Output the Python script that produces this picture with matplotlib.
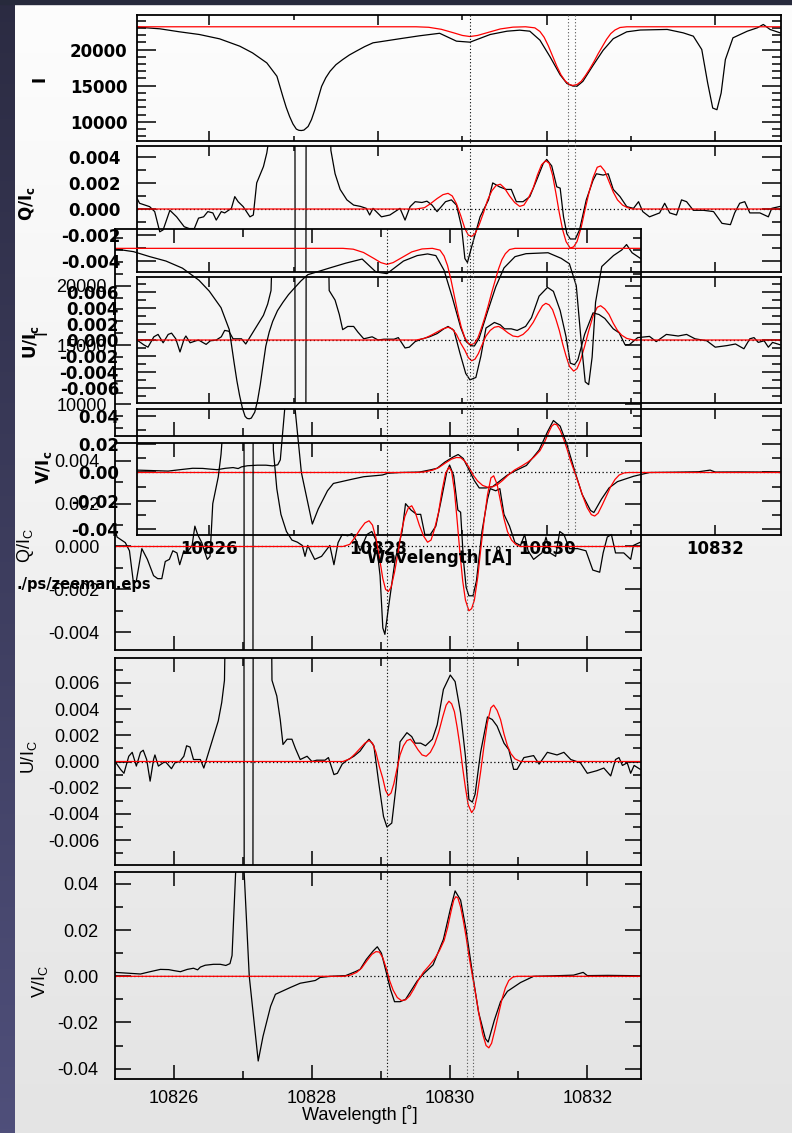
import numpy as np
import matplotlib
matplotlib.use("Agg")
import matplotlib.pyplot as plt
import matplotlib.transforms as mtransforms
from matplotlib.lines import Line2D
from matplotlib.ticker import FixedLocator, MultipleLocator, NullFormatter

plt.rcParams['mathtext.fontset'] = 'custom'
plt.rcParams['mathtext.bf'] = 'DejaVu Sans:bold'
plt.rcParams['mathtext.rm'] = 'Liberation Sans'
plt.rcParams['axes.unicode_minus'] = False

###############
# Data series #
###############
# Stokes I (observed / fit)
i_obs_wl = [10825.14, 10825.41, 10825.64, 10825.88, 10826.12, 10826.36, 10826.51, 10826.68, 10826.80,
            10826.87, 10826.91, 10826.95, 10826.99, 10827.03, 10827.06, 10827.09, 10827.12, 10827.17,
            10827.21, 10827.25, 10827.29, 10827.33, 10827.38, 10827.43, 10827.50, 10827.58, 10827.66,
            10827.74, 10827.84, 10827.94, 10828.02, 10828.26, 10828.49, 10828.73, 10828.93, 10829.09,
            10829.33, 10829.53, 10829.68, 10829.80, 10829.92, 10830.04, 10830.16, 10830.24, 10830.31,
            10830.36, 10830.43, 10830.55, 10830.67, 10830.79, 10830.95, 10831.11, 10831.43, 10831.62,
            10831.74, 10831.84, 10831.91, 10831.97, 10832.02, 10832.07, 10832.12, 10832.21, 10832.38,
            10832.50, 10832.57, 10832.65, 10832.77]
i_obs = [23100, 22870, 22460, 22080, 21480, 20460, 19540, 18150, 16300,
         13510, 12000, 10740, 9700, 8990, 8820, 8790, 8850, 9350,
         10300, 11670, 13300, 14900, 16100, 16990, 17900, 18610, 19250,
         19770, 20400, 20930, 21070, 21500, 21900, 22250, 21160, 21020,
         22080, 22540, 22680, 22540, 21300, 19000, 16500, 15300, 14950,
         14920, 15600, 17800, 19900, 21500, 22450, 22700, 22780, 22310,
         21850, 20000, 15370, 11900, 11670, 13980, 18610, 21620, 22540,
         23010, 23470, 22780, 22310]
i_fit_wl = [10825.14, 10828.45, 10828.60, 10828.75, 10828.90, 10829.00, 10829.09, 10829.18, 10829.30,
            10829.45, 10829.60, 10829.75, 10829.86, 10829.92, 10829.97, 10830.02, 10830.07, 10830.12,
            10830.17, 10830.22, 10830.27, 10830.31, 10830.36, 10830.41, 10830.46, 10830.51, 10830.56,
            10830.61, 10830.66, 10830.71, 10830.76, 10830.81, 10830.87, 10830.95, 10832.78]
i_fit = [23150, 23150, 23080, 22800, 22300, 21950, 21800, 21950, 22350,
         22850, 23100, 23150, 23000, 22500, 21700, 20500, 19100, 17700,
         16500, 15650, 15150, 15030, 15150, 15600, 16400, 17300, 18300,
         19400, 20400, 21400, 22200, 22700, 23050, 23150, 23150]

# Stokes Q / Ic
q_obs_wl = [10825.13, 10825.17, 10825.29, 10825.35, 10825.41, 10825.45, 10825.53, 10825.61, 10825.70,
            10825.76, 10825.82, 10825.87, 10825.93, 10825.98, 10826.04, 10826.08, 10826.14, 10826.18,
            10826.26, 10826.30, 10826.34, 10826.40, 10826.48, 10826.52, 10826.56, 10826.64, 10826.68,
            10826.72, 10826.80, 10827.01, 10827.02, 10827.14, 10827.15, 10827.38, 10827.44, 10827.49,
            10827.55, 10827.63, 10827.71, 10827.79, 10827.86, 10827.90, 10827.94, 10828.04, 10828.14,
            10828.26, 10828.32, 10828.38, 10828.44, 10828.52, 10828.58, 10828.64, 10828.70, 10828.80,
            10828.87, 10828.93, 10828.99, 10829.03, 10829.06, 10829.11, 10829.21, 10829.31, 10829.36,
            10829.44, 10829.52, 10829.58, 10829.64, 10829.72, 10829.80, 10829.88, 10829.96, 10830.00,
            10830.06, 10830.12, 10830.16, 10830.20, 10830.24, 10830.28, 10830.34, 10830.39, 10830.47,
            10830.55, 10830.59, 10830.67, 10830.73, 10830.79, 10830.87, 10830.95, 10831.03, 10831.09,
            10831.14, 10831.22, 10831.34, 10831.40, 10831.46, 10831.54, 10831.60, 10831.66, 10831.74,
            10831.86, 10831.98, 10832.08, 10832.18, 10832.23, 10832.29, 10832.35, 10832.41, 10832.53,
            10832.63, 10832.67, 10832.77]
q_obs = [0.00095, 0.00044, 0.00018, -0.0002, -0.00175, -0.0016, -0.0001, -0.0006, -0.00136,
         -0.0015, -0.0015, -0.0007, -0.0006, -0.0002, -0.0003, -0.00085, -0.0002, -0.0003,
         0.00005, 0.00095, 0.00056, 0.00018, -0.0006, -0.00046, 0.002, 0.00325, 0.0043,
         0.006, 0.03, 0.03, -0.03, -0.03, 0.03, 0.03, 0.0045, 0.0027,
         0.0015, 0.0007, 0.0003, 0.0002, 0.00005, -0.00046, 0.00005, -0.0006, -0.00046,
         0.00005, -0.00085, 0.00018, 0.00056, 0.0005, 0.0006, 0.0003, -0.0002, 0.00056,
         0.0007, 0.0003, -0.00136, -0.0038, -0.0041, -0.0029, -0.0006, 0.0007, 0.002,
         0.0017, 0.0015, 0.0015, 0.00056, 0.00056, 0.00095, 0.0022, 0.0035, 0.0038,
         0.0033, 0.0017, 0.0016, -0.0006, -0.0019, -0.0023, -0.0023, -0.0016, 0.0007,
         0.0022, 0.0027, 0.0026, 0.0027, 0.0015, 0.00095, 0.00018, 0.00005, 0.00056,
         -0.0002, -0.0006, -0.0003, 0.00044, -0.0003, -0.00046, 0.0007, 0.00056, -0.0001,
         -0.0001, -0.0002, -0.0011, -0.0012, -0.0003, 0.00044, 0.00056, -0.0003, -0.0003,
         -0.0006, 0.00005, 0.0002]
q_fit_wl = [10825.14, 10828.45, 10828.55, 10828.62, 10828.70, 10828.77, 10828.83, 10828.88, 10828.93,
            10828.98, 10829.03, 10829.07, 10829.11, 10829.15, 10829.20, 10829.25, 10829.30, 10829.35,
            10829.40, 10829.45, 10829.50, 10829.56, 10829.62, 10829.68, 10829.73, 10829.78, 10829.84,
            10829.89, 10829.94, 10829.99, 10830.03, 10830.07, 10830.11, 10830.15, 10830.19, 10830.23,
            10830.28, 10830.32, 10830.36, 10830.41, 10830.45, 10830.50, 10830.55, 10830.60, 10830.64,
            10830.69, 10830.74, 10830.79, 10830.84, 10830.90, 10830.96, 10831.02, 10832.78]
q_fit = [0.0, 0.0, 0.0001, 0.0004, 0.0008, 0.0011, 0.0012, 0.0010, 0.0004,
         -0.0005, -0.0015, -0.0020, -0.0021, -0.0019, -0.0012, -0.0003, 0.0007, 0.0014,
         0.0018, 0.0019, 0.0016, 0.0010, 0.0005, 0.0002, 0.0003, 0.0008, 0.0016,
         0.0026, 0.0034, 0.0037, 0.0035, 0.0026, 0.0012, -0.0003, -0.0016, -0.0025,
         -0.0030, -0.0029, -0.0025, -0.0014, -0.0002, 0.0012, 0.0024, 0.0032, 0.0033,
         0.0029, 0.0021, 0.0013, 0.0007, 0.0003, 0.0001, 0.0, 0.0]

# Stokes U / Ic
u_obs_wl = [10825.14, 10825.22, 10825.27, 10825.34, 10825.39, 10825.45, 10825.51, 10825.55, 10825.60,
            10825.65, 10825.70, 10825.72, 10825.77, 10825.84, 10825.87, 10825.96, 10826.01, 10826.08,
            10826.14, 10826.18, 10826.23, 10826.28, 10826.38, 10826.43, 10826.50, 10826.57, 10826.64,
            10826.69, 10826.73, 10826.80, 10827.01, 10827.02, 10827.14, 10827.15, 10827.38, 10827.42,
            10827.49, 10827.54, 10827.58, 10827.64, 10827.71, 10827.76, 10827.83, 10827.93, 10828.00,
            10828.07, 10828.19, 10828.24, 10828.32, 10828.37, 10828.44, 10828.51, 10828.61, 10828.70,
            10828.78, 10828.83, 10828.90, 10828.97, 10829.04, 10829.09, 10829.16, 10829.22, 10829.28,
            10829.38, 10829.45, 10829.50, 10829.58, 10829.65, 10829.75, 10829.82, 10829.91, 10830.01,
            10830.08, 10830.16, 10830.23, 10830.28, 10830.33, 10830.37, 10830.45, 10830.55, 10830.62,
            10830.69, 10830.79, 10830.86, 10830.93, 10830.98, 10831.08, 10831.22, 10831.30, 10831.42,
            10831.56, 10831.66, 10831.76, 10831.90, 10832.00, 10832.14, 10832.24, 10832.34, 10832.41,
            10832.46, 10832.51, 10832.58, 10832.63, 10832.68, 10832.77]
u_obs = [0.0, -0.0006, -0.0009, 0.0004, 0.0007, -0.00035, 0.0007, 0.00086, 0.00015,
         -0.0015, 0.00015, 0.0005, -0.00035, -0.0001, 0.0, -0.00055, -0.0001, 0.0,
         0.0004, 0.0012, 0.0011, 0.00015, 0.00015, -0.0005, 0.0007, 0.0019, 0.0031,
         0.0045, 0.0062, 0.03, 0.03, -0.03, -0.03, 0.03, 0.03, 0.0062,
         0.005, 0.0032, 0.0013, 0.0017, 0.0017, 0.001, 0.00015, 0.0004, 0.0,
         0.0001, 0.0001, 0.0003, -0.001, -0.0009, -0.0002, 0.0001, 0.0004, 0.0008,
         0.0014, 0.0017, 0.0012, -0.0016, -0.0042, -0.005, -0.0047, -0.002, 0.0015,
         0.0022, 0.0019, 0.0014, 0.0014, 0.0012, 0.0017, 0.0028, 0.0055, 0.0066,
         0.0061, 0.0037, 0.0004, -0.0029, -0.0031, -0.0025, 0.0007, 0.0034, 0.0032,
         0.0027, 0.0014, 0.0009, -0.0006, -0.0006, 0.0003, 0.00045, -0.0002, 0.0007,
         0.0005, 0.0007, 0.00015, -0.0001, -0.0009, -0.0007, -0.0005, -0.0011, 0.00015,
         0.0003, -0.0003, -0.0001, -0.0009, -0.0003, -0.0006]
u_fit_wl = [10825.14, 10828.45, 10828.55, 10828.63, 10828.70, 10828.77, 10828.83, 10828.88, 10828.93,
            10828.98, 10829.03, 10829.07, 10829.11, 10829.15, 10829.19, 10829.23, 10829.28, 10829.33,
            10829.38, 10829.43, 10829.48, 10829.54, 10829.60, 10829.66, 10829.72, 10829.78, 10829.84,
            10829.90, 10829.95, 10829.99, 10830.03, 10830.07, 10830.11, 10830.15, 10830.19, 10830.23,
            10830.27, 10830.32, 10830.36, 10830.40, 10830.45, 10830.50, 10830.55, 10830.60, 10830.64,
            10830.69, 10830.74, 10830.79, 10830.84, 10830.89, 10830.95, 10831.03, 10832.78]
u_fit = [0.0, 0.0, 0.0002, 0.0006, 0.0010, 0.0014, 0.0016, 0.0014, 0.0007,
         -0.0004, -0.0013, -0.0022, -0.0026, -0.0024, -0.0017, -0.0007, 0.0005, 0.0012,
         0.0016, 0.0017, 0.0014, 0.0009, 0.0005, 0.0004, 0.0007, 0.0013, 0.0022,
         0.0034, 0.0043, 0.0046, 0.0044, 0.0038, 0.0026, 0.0012, -0.0005, -0.0020,
         -0.0033, -0.0039, -0.0036, -0.0026, -0.0008, 0.0012, 0.0030, 0.0041, 0.0043,
         0.0039, 0.0032, 0.0021, 0.0012, 0.0006, 0.0002, 0.0, 0.0]

# Stokes V / Ic
v_obs_wl = [10825.14, 10825.30, 10825.51, 10825.65, 10825.80, 10825.92, 10825.99, 10826.09, 10826.19,
            10826.28, 10826.34, 10826.38, 10826.45, 10826.57, 10826.67, 10826.75, 10826.81, 10826.84,
            10826.95, 10827.09, 10827.22, 10827.29, 10827.40, 10827.47, 10827.69, 10827.83, 10827.98,
            10828.05, 10828.12, 10828.27, 10828.49, 10828.63, 10828.70, 10828.79, 10828.89, 10828.95,
            10829.01, 10829.08, 10829.14, 10829.20, 10829.28, 10829.36, 10829.53, 10829.62, 10829.76,
            10829.91, 10830.01, 10830.08, 10830.16, 10830.24, 10830.33, 10830.42, 10830.52, 10830.56,
            10830.65, 10830.74, 10830.84, 10831.03, 10831.22, 10831.50, 10831.80, 10831.94, 10832.00,
            10832.30, 10832.60, 10832.78]
v_obs = [0.0017, 0.0014, 0.0010, 0.0020, 0.0030, 0.0029, 0.0025, 0.0020, 0.0030,
         0.0035, 0.0028, 0.0040, 0.0048, 0.0052, 0.0052, 0.0047, 0.0055, 0.009,
         0.085, 0.0, -0.0367, -0.026, -0.013, -0.0078, -0.0048, -0.003, -0.0022,
         -0.0018, -0.0005, 0.0, 0.0003, 0.002, 0.003, 0.0073, 0.011, 0.0128,
         0.010, 0.0017, -0.0056, -0.011, -0.011, -0.010, -0.002, 0.001, 0.005,
         0.016, 0.029, 0.037, 0.033, 0.020, 0.0017, -0.0155, -0.027, -0.0285,
         -0.019, -0.011, -0.0065, -0.0027, 0.0, 0.0002, 0.0005, 0.0017, 0.0003,
         0.0004, 0.0003, 0.0]
v_fit_wl = [10825.14, 10828.45, 10828.55, 10828.65, 10828.72, 10828.80, 10828.87, 10828.93, 10828.98,
            10829.03, 10829.08, 10829.13, 10829.18, 10829.24, 10829.30, 10829.36, 10829.42, 10829.48,
            10829.55, 10829.62, 10829.70, 10829.78, 10829.85, 10829.92, 10829.97, 10830.02, 10830.06,
            10830.09, 10830.12, 10830.16, 10830.20, 10830.24, 10830.28, 10830.33, 10830.38, 10830.43,
            10830.48, 10830.53, 10830.57, 10830.61, 10830.66, 10830.71, 10830.76, 10830.81, 10830.86,
            10830.92, 10830.98, 10832.78]
v_fit = [0.0, 0.0, 0.0004, 0.0017, 0.0035, 0.0068, 0.0095, 0.0107, 0.0105,
         0.008, 0.0035, -0.002, -0.006, -0.0092, -0.0105, -0.0102, -0.0085, -0.0055,
         -0.0015, 0.0018, 0.0045, 0.0075, 0.011, 0.0155, 0.021, 0.028, 0.033,
         0.0345, 0.034, 0.030, 0.024, 0.017, 0.009, 0.0005, -0.008, -0.017,
         -0.025, -0.030, -0.031, -0.029, -0.023, -0.0165, -0.010, -0.005, -0.0018,
         -0.0003, 0.0, 0.0]

# line positions marked with dotted verticals
marker_wl = [10829.09, 10830.25, 10830.34]

# axis ticks and labels
x_ticks = [10826, 10828, 10830, 10832]
x_labels = ["10826", "10828", "10830", "10832"]
i_ticks = [10000, 15000, 20000]
i_labels = ["10000", "15000", "20000"]
q_ticks = [-0.004, -0.002, 0.0, 0.002, 0.004]
q_labels = ["-0.004", "-0.002", "0.000", "0.002", "0.004"]
u_ticks = [-0.006, -0.004, -0.002, 0.0, 0.002, 0.004, 0.006]
u_labels = ["-0.006", "-0.004", "-0.002", "0.000", "0.002", "0.004", "0.006"]
v_ticks = [-0.04, -0.02, 0.0, 0.02, 0.04]
v_labels = ["-0.04", "-0.02", "0.00", "0.02", "0.04"]

############
# Geometry #
############
W, H = 792, 1133
fig = plt.figure(figsize=(W / 100, H / 100), dpi=100)


def rect(x0, y0, x1, y1):
    return [x0 / W, 1 - y1 / H, (x1 - x0) / W, (y1 - y0) / H]


# slide background
bg = fig.add_axes([0, 0, 1, 1])
bg.set_xlim(0, W)
bg.set_ylim(H, 0)
bg.axis("off")
grad = np.linspace(253, 228, 256)[:, None] / 255.0
bg.imshow(np.dstack([grad, grad, grad]), extent=(15, W, H, 4), aspect="auto")
side = np.linspace(0, 1, 256)[:, None]
side_rgb = np.dstack([0.17 + 0.14 * side, 0.17 + 0.14 * side, 0.26 + 0.22 * side])
bg.imshow(side_rgb, extent=(0, 15, H, 0), aspect="auto")
bg.fill_between([0, W], 0, 4, color="#272a3c")

xlim = (10825.14, 10832.78)
ylims = [(7340, 24780), (-0.00483, 0.00483), (-0.0079, 0.0079), (-0.0445, 0.0452)]
ticks = [(i_ticks, i_labels, 1000), (q_ticks, q_labels, 0.001),
         (u_ticks, u_labels, 0.001), (v_ticks, v_labels, 0.01)]
series = [(i_obs_wl, i_obs, i_fit_wl, i_fit),
          (q_obs_wl, q_obs, q_fit_wl, q_fit),
          (u_obs_wl, u_obs, u_fit_wl, u_fit),
          (v_obs_wl, v_obs, v_fit_wl, v_fit)]


def draw_stack(x0, x1, tops, bots, font, xlen, ylen, ypads, xpad):
    axes = []
    for k in range(4):
        ax = fig.add_axes(rect(x0, tops[k], x1, bots[k]))
        ax.set_facecolor("none")
        ax.set_xlim(*xlim)
        ax.set_ylim(*ylims[k])
        wl_o, obs, wl_f, fit = series[k]
        if k > 0:
            ax.axhline(0, color="black", lw=0.9, ls=(0, (1, 2)))
        ax.plot(wl_o, obs, color="black", lw=0.9)
        ax.plot(wl_f, fit, color="red", lw=0.9)
        tk, tl, mn = ticks[k]
        ax.yaxis.set_major_locator(FixedLocator(tk))
        ax.set_yticklabels(tl, **font)
        ax.yaxis.set_minor_locator(MultipleLocator(mn))
        ax.xaxis.set_major_locator(FixedLocator(x_ticks))
        ax.xaxis.set_minor_locator(MultipleLocator(1))
        if k == 3:
            ax.set_xticklabels(x_labels, **font)
        else:
            ax.xaxis.set_major_formatter(NullFormatter())
        ax.tick_params(axis="both", which="both", direction="in", top=True, right=True, width=1.1)
        ax.tick_params(axis="x", which="major", length=xlen[0], pad=xpad)
        ax.tick_params(axis="x", which="minor", length=xlen[1])
        ax.tick_params(axis="y", which="major", length=ylen[0], pad=ypads[k])
        ax.tick_params(axis="y", which="minor", length=ylen[1])
        for s in ax.spines.values():
            s.set_linewidth(1.3)
        axes.append(ax)
    # dotted markers spanning the whole stack
    tr = mtransforms.blended_transform_factory(axes[0].transData, fig.transFigure)
    for j, wl in enumerate(marker_wl):
        fig.add_artist(Line2D([wl, wl], [1 - tops[0] / H, 1 - bots[3] / H], transform=tr,
                              color="black" if j == 0 else "#555555", lw=0.8, ls=(0, (1, 2))))
    return axes


# upper (bold, wide) plot
font_a = dict(family="DejaVu Sans", fontweight="bold", fontsize=12)
draw_stack(137, 781, [15, 146, 277, 409], [141, 272, 403, 535], font_a,
           (7.2, 3.6), (13.5, 6.5), [7, 12, 13, 13], 3.6)

# lower (regular) plot
font_b = dict(family="Liberation Sans", fontsize=13)
draw_stack(115, 641, [229, 443, 658, 872], [436, 650, 865, 1079], font_b,
           (10, 5.8), (11.5, 5.8), [6, 11, 11, 12], 8)


def ftext(x, y, s, **kw):
    fig.text(x / W, 1 - y / H, s, ha="center", va="center", **kw)


# labels of the upper plot
ftext(40, 79, "I", rotation=90, **font_a)
ftext(27, 204, r"$\mathbf{Q/I_c}$", rotation=90, fontsize=12)
ftext(31, 342, r"$\mathbf{U/I_c}$", rotation=90, fontsize=12)
ftext(44, 467, r"$\mathbf{V/I_c}$", rotation=90, fontsize=12)
ftext(440, 557, "Wavelength [Å]", **font_a)
fig.text(16 / W, 1 - 584 / H, "./ps/zeeman.eps", ha="left", va="center",
         family="DejaVu Sans", fontweight="bold", fontsize=10.5)

# labels of the lower plot
ftext(42, 332, "I", rotation=90, **font_b)
ftext(25, 546, r"$\mathrm{Q/I_C}$", rotation=90, fontsize=13)
ftext(29, 757, r"$\mathrm{U/I_C}$", rotation=90, fontsize=13)
ftext(40, 982, r"$\mathrm{V/I_C}$", rotation=90, fontsize=13)
ftext(360, 1115, "Wavelength [˚]", **font_b)

fig.savefig("out.png", dpi=100)
